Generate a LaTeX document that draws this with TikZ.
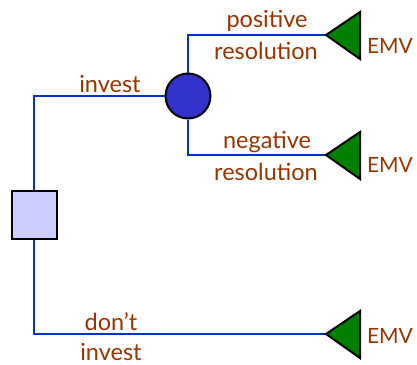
\documentclass[tikz,border=0pt]{standalone}
\usepackage{fontspec}
\setmainfont{Lato}
\definecolor{brn}{RGB}{153,51,0}
\definecolor{bl}{RGB}{0,51,204}
\definecolor{cfill}{RGB}{51,51,204}
\definecolor{sfill}{RGB}{204,204,255}
\definecolor{gfill}{RGB}{0,128,0}
\begin{document}
\begin{tikzpicture}[x=1pt,y=-1pt,
  branch/.style={draw=bl,line width=2.4pt},
  lbl/.style={text=brn,font=\fontsize{23.5}{26}\selectfont,inner sep=0pt},
  emv/.style={text=brn,font=\fontsize{21}{24}\selectfont,inner sep=0pt},
  term/.style={draw=black,line width=2pt,fill=gfill,line join=miter}]
\useasboundingbox (0,0) rectangle (417,364);
% nodes
\node[draw=black,line width=2pt,fill=sfill,minimum width=45pt,minimum height=48pt,inner sep=0pt] (dec) at (34,215) {};
\node[circle,draw=black,line width=2pt,fill=cfill,minimum size=45pt,inner sep=0pt] (ch) at (188,96) {};
\coordinate (t1) at (326,35);
\coordinate (t2) at (326,155);
\coordinate (t3) at (326,334);
\coordinate (c1) at (34,96);
\coordinate (c2) at (188,35);
\coordinate (c3) at (188,155);
\coordinate (c4) at (34,334);
% branches
\draw[branch] (dec.north) -- (c1) -- (ch.west);
\draw[branch] (ch.north) -- (c2) -- (t1);
\draw[branch] (ch.south) -- (c3) -- (t2);
\draw[branch] (dec.south) -- (c4) -- (t3);
% terminals
\draw[term] (t1) -- ++(34,-23) -- ++(0,47) -- cycle;
\draw[term] (t2) -- ++(34,-23) -- ++(0,47) -- cycle;
\draw[term] (t3) -- ++(34,-23) -- ++(0,47) -- cycle;
% labels
\node[lbl] (linv) at (110,84) {invest};
\node[lbl] (lpos) at (267,21) {positive};
\node[lbl] (lres1) at (266,51) {resolution};
\node[lbl] (lneg) at (267,142) {negative};
\node[lbl] (lres2) at (266,172) {resolution};
\node[lbl] (ldont) at (111,322) {don’t};
\node[lbl] (linv2) at (111,352) {invest};
\node[emv] (e1) at (390,46) {EMV};
\node[emv] (e2) at (390,165) {EMV};
\node[emv] (e3) at (390,336) {EMV};
\end{tikzpicture}
\end{document}
